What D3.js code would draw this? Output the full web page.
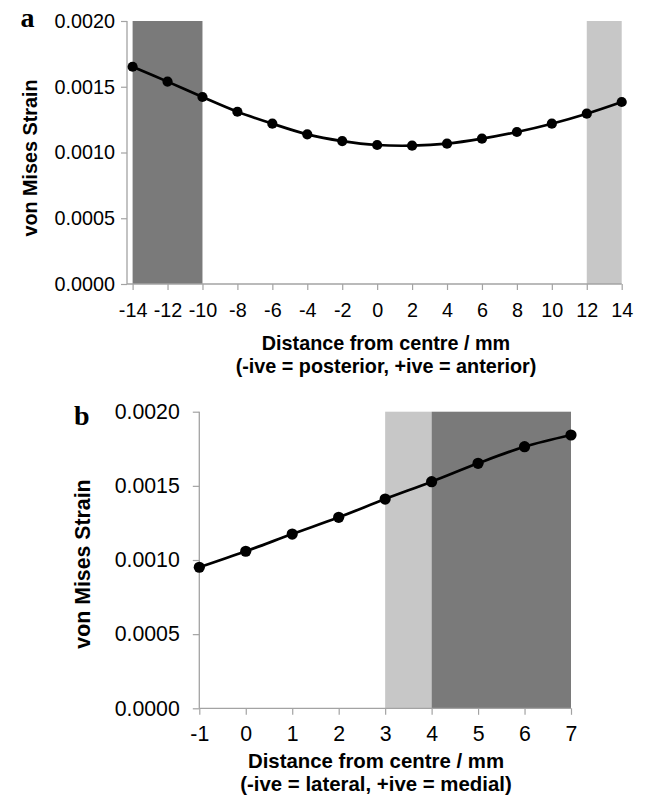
<!DOCTYPE html>
<html><head><meta charset="utf-8">
<script src="https://cdn.jsdelivr.net/npm/d3@7"></script>
<style>body{margin:0;background:#fff}</style>
</head><body>
<svg id="c" width="646" height="802" xmlns="http://www.w3.org/2000/svg"></svg>
<script>
// ---- data ----
const posA = [-14,-12,-10,-8,-6,-4,-2,0,2,4,6,8,10,12,14];
const strainA = [0.001652,0.001539,0.001422,0.001310,0.001219,0.001138,0.001087,0.001057,0.001052,0.001067,0.001105,0.001156,0.001219,0.001295,0.001384];
const posB = [-1,0,1,2,3,4,5,6,7];
const strainB = [0.000951,0.001059,0.001175,0.001288,0.001411,0.001528,0.001652,0.001764,0.001843];
const yTicks = [0,0.0005,0.001,0.0015,0.002];
const xTicksA = [-14,-12,-10,-8,-6,-4,-2,0,2,4,6,8,10,12,14];
const xTicksB = [-1,0,1,2,3,4,5,6,7];
const bandFromA = [-14,12], bandToA = [-10,14], bandShadeA = ["dark","light"];
const bandFromB = [3,4], bandToB = [4,7], bandShadeB = ["light","dark"];
const yTitle = "von Mises Strain";
const xTitle = "Distance from centre / mm";
const xSubA = "(-ive = posterior, +ive = anterior)";
const xSubB = "(-ive = lateral, +ive = medial)";

const svg = d3.select("#c");
const SANS = "'Liberation Sans', Arial, sans-serif";
const SERIF = "'Liberation Serif', 'Times New Roman', serif";
const shadeCol = {dark:"#7a7a7a", light:"#c7c7c7"};
const axisCol = "#a3a3a3";
const fmt = d3.format(".4f");
const fmtX = d => String(d); // plain hyphen-minus like the reference

function panel(o){
  const g = svg.append("g");
  const x = d3.scaleLinear().domain(o.xDom).range(o.xRange);
  const y = d3.scaleLinear().domain([0,0.002]).range(o.yRange);
  const axisX = o.axisX;
  // bands
  o.bFrom.forEach((f,i)=>{
    g.append("rect").attr("x",x(f)).attr("y",y(0.002))
      .attr("width",x(o.bTo[i])-x(f)).attr("height",y(0)-y(0.002))
      .attr("fill",shadeCol[o.bShade[i]]);
  });
  // y axis
  const ya = g.append("g").attr("transform",`translate(${axisX},0)`)
    .call(d3.axisLeft(y).tickValues(yTicks).tickFormat(fmt).tickSize(o.tick).tickSizeOuter(0).tickPadding(o.yPad));
  ya.select(".domain").remove();
  ya.selectAll("line").attr("stroke",axisCol).attr("stroke-width",1.2);
  ya.selectAll("text").attr("font-family",SANS).attr("font-size",o.fs).attr("fill","#000");
  g.append("line").attr("x1",axisX).attr("x2",axisX).attr("y1",y(0.002)).attr("y2",y(0))
    .attr("stroke",axisCol).attr("stroke-width",1.3);
  // x axis
  const xa = g.append("g").attr("transform",`translate(0,${y(0)})`)
    .call(d3.axisBottom(x).tickValues(o.xTicks).tickFormat(fmtX).tickSize(o.tick).tickSizeOuter(0).tickPadding(o.xPad));
  xa.select(".domain").remove();
  xa.selectAll("line").attr("stroke",axisCol).attr("stroke-width",1.2);
  xa.selectAll("text").attr("font-family",SANS).attr("font-size",o.fs).attr("fill","#000");
  g.append("line").attr("x1",axisX).attr("x2",x(o.xDom[1])).attr("y1",y(0)).attr("y2",y(0))
    .attr("stroke",axisCol).attr("stroke-width",1.3);
  // line
  const line = d3.line().x((d,i)=>x(o.xs[i])).y(d=>y(d)).curve(d3.curveCatmullRom.alpha(0.5));
  g.append("path").datum(o.ys).attr("d",line).attr("fill","none").attr("stroke","#000").attr("stroke-width",2.7);
  g.selectAll("circle.pt").data(o.ys).join("circle").attr("class","pt")
    .attr("cx",(d,i)=>x(o.xs[i])).attr("cy",d=>y(d)).attr("r",o.r).attr("fill","#000");
  // titles
  g.append("text").attr("transform",`translate(${o.yTitleX},${o.yTitleY}) rotate(-90)`)
    .attr("text-anchor","middle").attr("font-family",SANS).attr("font-weight","bold")
    .attr("font-size",o.fs).text(yTitle);
  g.append("text").attr("x",o.titleX).attr("y",o.titleY).attr("text-anchor","middle")
    .attr("font-family",SANS).attr("font-weight","bold").attr("font-size",o.tfs).text(xTitle);
  g.append("text").attr("x",o.titleX).attr("y",o.subY).attr("text-anchor","middle")
    .attr("font-family",SANS).attr("font-weight","bold").attr("font-size",o.tfs).text(o.sub);
  g.append("text").attr("x",o.letterX).attr("y",o.letterY)
    .attr("font-family",SERIF).attr("font-weight","bold").attr("font-size",28).text(o.letter);
}

panel({xs:posA, ys:strainA, xDom:[-14,14], xRange:[132.6,621.7], yRange:[284,21], axisX:127,
  xTicks:xTicksA, bFrom:bandFromA, bTo:bandToA, bShade:bandShadeA, tick:6, yPad:6, xPad:13, fs:19.8, tfs:19.8, r:5.1,
  yTitleX:36.5, yTitleY:158, titleX:386, titleY:350, subY:372.5, sub:xSubA, letter:"a", letterX:20.5, letterY:26.7});

panel({xs:posB, ys:strainB, xDom:[-1,7], xRange:[199.3,571], yRange:[708.3,411.7], axisX:199.3,
  xTicks:xTicksB, bFrom:bandFromB, bTo:bandToB, bShade:bandShadeB, tick:6.5, yPad:13, xPad:11, fs:21.3, tfs:20.4, r:5.6,
  yTitleX:90, yTitleY:564, titleX:376, titleY:768, subY:791, sub:xSubB, letter:"b", letterX:74, letterY:425});
</script>
</body></html>
